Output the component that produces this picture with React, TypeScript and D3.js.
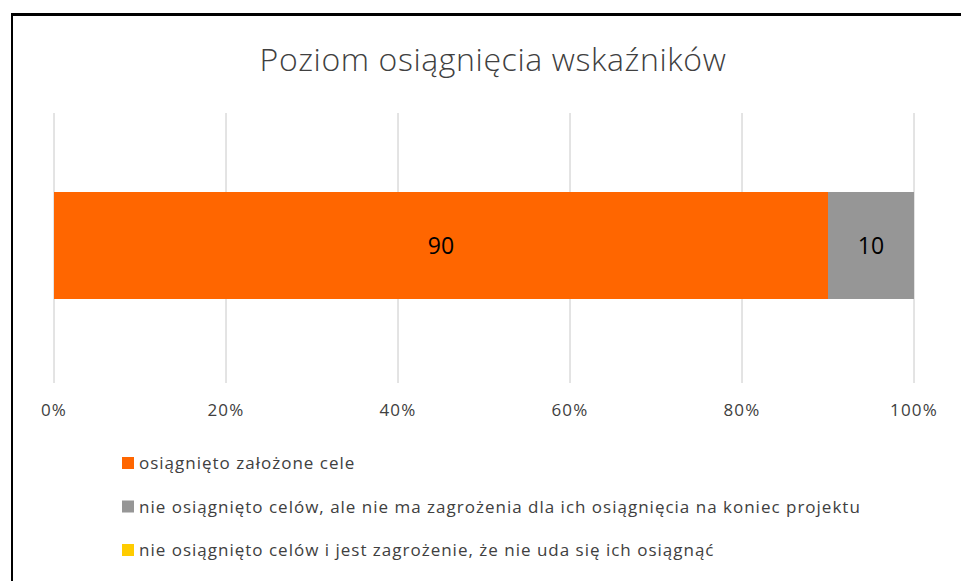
import React from "react";
import * as d3 from "d3";

const title = "Poziom osiągnięcia wskaźników";
const seriesNames = [
  "osiągnięto założone cele",
  "nie osiągnięto celów, ale nie ma zagrożenia dla ich osiągnięcia na koniec projektu",
  "nie osiągnięto celów i jest zagrożenie, że nie uda się ich osiągnąć",
];
const seriesValues = [90, 10, 0];
const seriesColors = ["#ff6600", "#969696", "#ffcc00"];
const tickValues = [0, 20, 40, 60, 80, 100];

const W = 961;
const H = 581;
const FONT = "'Open Sans', 'Noto Sans', sans-serif";

export default function App() {
  const x = d3.scaleLinear().domain([0, 100]).range([54, 914]);
  const barTop = 192;
  const barH = 107;
  const total = d3.sum(seriesValues);
  let acc = 0;
  const segs = seriesValues.map((v, i) => {
    const start = acc;
    acc += (v / total) * 100;
    return { v, i, start, end: acc };
  });

  return (
    <svg
      width={W}
      height={H}
      style={{ position: "absolute", left: 0, top: 0, background: "#fff" }}
    >
      <rect x={0} y={0} width={W} height={H} fill="#fff" />
      <line x1={12} y1={14.5} x2={W} y2={14.5} stroke="#000" strokeWidth={3} />
      <line x1={12} y1={13} x2={12} y2={H} stroke="#000" strokeWidth={2} />

      <text
        x={493}
        y={71}
        textAnchor="middle"
        fontFamily={FONT}
        fontWeight={300}
        fontSize={32}
        letterSpacing={0.6}
        fill="#404040"
      >
        {title}
      </text>

      {tickValues.map((t) => (
        <line
          key={"g" + t}
          x1={x(t)}
          x2={x(t)}
          y1={113}
          y2={383}
          stroke="#c8c8c8"
          strokeWidth={1}
        />
      ))}

      {segs
        .filter((s) => s.v > 0)
        .map((s) => (
          <g key={"b" + s.i}>
            <rect
              x={x(s.start)}
              y={barTop}
              width={x(s.end) - x(s.start)}
              height={barH}
              fill={seriesColors[s.i]}
            />
            <text
              x={(x(s.start) + x(s.end)) / 2}
              y={barTop + barH / 2 + 8}
              textAnchor="middle"
              fontFamily={FONT}
              fontSize={23}
              fill="#000"
            >
              {s.v}
            </text>
          </g>
        ))}

      {tickValues.map((t) => (
        <text
          key={"t" + t}
          x={x(t)}
          y={416}
          textAnchor="middle"
          fontFamily={FONT}
          fontSize={17}
          letterSpacing={1.2}
          fill="#404040"
        >
          {t + "%"}
        </text>
      ))}

      {seriesNames.map((n, i) => (
        <g key={"l" + i}>
          <rect
            x={122}
            y={457 + i * 43.5}
            width={12}
            height={12}
            fill={seriesColors[i]}
          />
          <text
            x={139}
            y={469 + i * 43.5}
            fontFamily={FONT}
            fontSize={17}
            letterSpacing={1}
            fill="#404040"
          >
            {n}
          </text>
        </g>
      ))}
    </svg>
  );
}
